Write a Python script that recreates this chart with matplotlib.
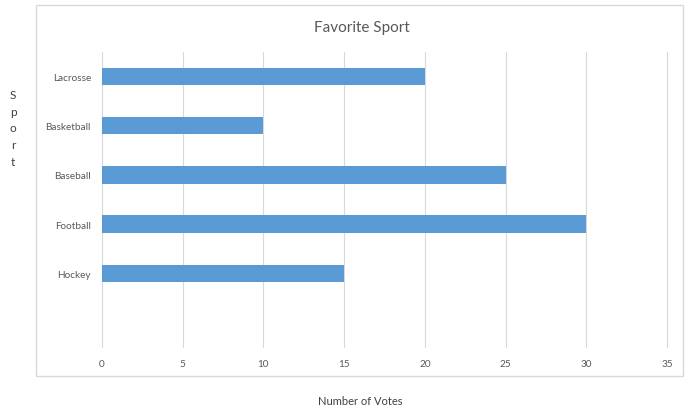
import matplotlib.pyplot as plt
from matplotlib.patches import Rectangle

# Votes per sport, listed bottom to top
sports = ["Hockey", "Football", "Baseball", "Basketball", "Lacrosse"]
votes = [15, 30, 25, 10, 20]
x_ticks = [0, 5, 10, 15, 20, 25, 30, 35]

plt.rcParams['font.family'] = ['Lato', 'DejaVu Sans']
text_color = "#595959"
bar_color = "#5B9BD5"
grid_color = "#D9D9D9"

fig = plt.figure(figsize=(6.85, 4.1), dpi=100)
ax = fig.add_axes([102 / 685, 1 - 348 / 410, 565 / 685, 295 / 410])

# chart frame
fig.patches.append(Rectangle((36 / 685, 1 - 377 / 410), 647 / 685, 371 / 410,
                             transform=fig.transFigure, fill=False,
                             edgecolor=grid_color, linewidth=1.0))

# one empty slot kept under the last category
pos = list(range(1, len(sports) + 1))
ax.barh(pos, votes, height=0.355, color=bar_color, zorder=3)

ax.set_xlim(0, 35)
ax.set_ylim(-0.5, len(sports) + 0.5)
ax.set_xticks(x_ticks)
ax.set_yticks(pos)
ax.set_yticklabels(sports)
ax.tick_params(length=0, labelsize=7.2, colors=text_color)
ax.tick_params(axis='x', pad=9)
ax.tick_params(axis='y', pad=8)
ax.grid(axis='x', color=grid_color, linewidth=0.8, zorder=0)
for gl in ax.get_xgridlines():
    gl.set_clip_on(False)
for s in ax.spines.values():
    s.set_visible(False)

fig.text(362 / 685, 1 - 28 / 410, "Favorite Sport", ha='center', va='center',
         fontsize=11, color=text_color)
fig.text(360 / 685, 1 - 402 / 410, "Number of Votes", ha='center', va='center',
         fontsize=8, color="#404040")
fig.text(13 / 685, 1 - 129 / 410, "S\np\no\nr\nt", ha='center', va='center',
         fontsize=8.5, color="#404040", linespacing=1.65)

fig.savefig("out.png", dpi=100)
